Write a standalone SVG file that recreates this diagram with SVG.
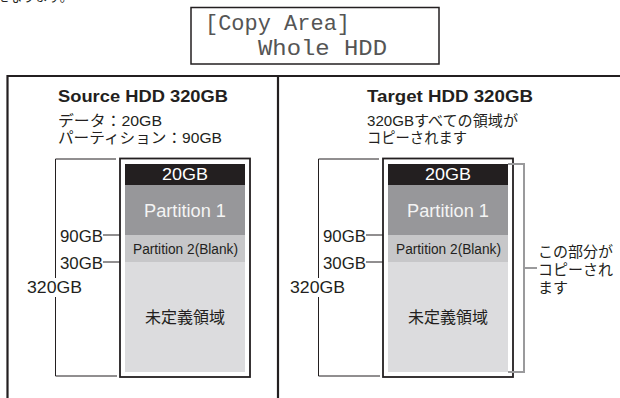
<svg xmlns="http://www.w3.org/2000/svg" width="620" height="398" viewBox="0 0 620 398">
<style>
.t{font-family:"Liberation Sans","Noto Sans CJK JP",sans-serif;fill:#231f20}
.jp{font-family:"Noto Sans CJK JP","Liberation Sans",sans-serif;fill:#231f20}
.h{font-family:"Liberation Sans","Noto Sans CJK JP",sans-serif;font-weight:bold;font-size:17px;fill:#231f20}
.lcd{font-family:"Liberation Mono",monospace;font-size:22px;fill:#555}
.frame{fill:none;stroke:#231f20;stroke-width:2.2}
.box{fill:#fff;stroke:#231f20;stroke-width:1.8}
.thin{fill:none;stroke:#231f20;stroke-width:1}
.copy{fill:none;stroke:#9a9a9c;stroke-width:2}
.s1{fill:#231f20}.s2{fill:#97979a}.s3{fill:#c7c7c9}.s4{fill:#dcdcde}
.lbl{font-size:16px}
.mid{text-anchor:middle}
.end{text-anchor:end}
</style>
<rect width="620" height="398" fill="#fff"/>
<text class="jp" x="-4" y="1" font-size="13">になります。</text>

<g id="copy-area">
  <rect x="191" y="7.5" width="248" height="56.5" fill="#fff" stroke="#231f20" stroke-width="1.5"/>
  <text class="lcd" x="205" y="30" textLength="145" lengthAdjust="spacingAndGlyphs">[Copy Area]</text>
  <text class="lcd" x="258" y="55" textLength="129" lengthAdjust="spacingAndGlyphs">Whole HDD</text>
</g>

<g id="frame">
  <path class="frame" d="M7.5 398V76H620M278 76V398"/>
</g>

<g id="source-panel">
  <text class="h" x="58" y="102" textLength="170" lengthAdjust="spacingAndGlyphs">Source HDD 320GB</text>
  <text class="t" x="58" y="126" font-size="15" textLength="104" lengthAdjust="spacingAndGlyphs">データ：20GB</text>
  <text class="t" x="58" y="143" font-size="15" textLength="164" lengthAdjust="spacingAndGlyphs">パーティション：90GB</text>
</g>

<g id="source-hdd">
  <rect class="box" x="120" y="158.5" width="130" height="218.5"/>
  <rect class="s1" x="125" y="164" width="120" height="21"/>
  <rect class="s2" x="125" y="185" width="120" height="50"/>
  <rect class="s3" x="125" y="235" width="120" height="27"/>
  <rect class="s4" x="125" y="262" width="120" height="110"/>
  <text class="t mid" x="185" y="180" font-size="16" fill="#fff" style="fill:#fff" textLength="46" lengthAdjust="spacingAndGlyphs">20GB</text>
  <text class="t mid" x="185" y="217" font-size="17.5" style="fill:#f4f4f4" textLength="82" lengthAdjust="spacingAndGlyphs">Partition 1</text>
  <text class="t mid" x="185.5" y="254" font-size="14" textLength="105" lengthAdjust="spacingAndGlyphs">Partition 2(Blank)</text>
  <text class="jp mid" x="185" y="323" font-size="16">未定義領域</text>
</g>

<g id="target-panel">
  <text class="h" x="367" y="102" textLength="166" lengthAdjust="spacingAndGlyphs">Target HDD 320GB</text>
  <text class="t" x="367" y="126" font-size="15" textLength="151" lengthAdjust="spacingAndGlyphs">320GBすべての領域が</text>
  <text class="t" x="367" y="143" font-size="15" textLength="100" lengthAdjust="spacingAndGlyphs">コピーされます</text>
</g>

<g id="target-hdd">
  <rect class="box" x="383" y="158.5" width="130" height="218.5"/>
  <rect class="s1" x="388" y="164" width="120" height="21"/>
  <rect class="s2" x="388" y="185" width="120" height="50"/>
  <rect class="s3" x="388" y="235" width="120" height="27"/>
  <rect class="s4" x="388" y="262" width="120" height="110"/>
  <text class="t mid" x="448" y="180" font-size="16" style="fill:#fff" textLength="46" lengthAdjust="spacingAndGlyphs">20GB</text>
  <text class="t mid" x="448" y="217" font-size="17.5" style="fill:#f4f4f4" textLength="82" lengthAdjust="spacingAndGlyphs">Partition 1</text>
  <text class="t mid" x="448.5" y="254" font-size="14" textLength="105" lengthAdjust="spacingAndGlyphs">Partition 2(Blank)</text>
  <text class="jp mid" x="448" y="323" font-size="16">未定義領域</text>
</g>

<g id="connectors">
  <path class="thin" d="M116 159H55.5V376H117M103 235H120M103 262H120"/>
  <path class="thin" d="M379 159H318.5V376H380M366 235H383M366 262H383"/>
  <path class="copy" d="M508 164H524V372H508M524 268H537"/>
</g>

<g id="size-labels">
  <rect x="27" y="278" width="56" height="19" fill="#fff"/>
  <rect x="290" y="278" width="56" height="19" fill="#fff"/>
  <text class="t lbl end" x="103" y="241.5" textLength="43" lengthAdjust="spacingAndGlyphs">90GB</text>
  <text class="t lbl end" x="103" y="269" textLength="43" lengthAdjust="spacingAndGlyphs">30GB</text>
  <text class="t lbl" x="27" y="293" textLength="55" lengthAdjust="spacingAndGlyphs">320GB</text>
  <text class="t lbl end" x="366" y="241.5" textLength="43" lengthAdjust="spacingAndGlyphs">90GB</text>
  <text class="t lbl end" x="366" y="269" textLength="43" lengthAdjust="spacingAndGlyphs">30GB</text>
  <text class="t lbl" x="290" y="293" textLength="55" lengthAdjust="spacingAndGlyphs">320GB</text>
</g>

<g id="copy-note">
  <text class="jp" x="538" y="257" font-size="15">この部分が</text>
  <text class="jp" x="538" y="275" font-size="15">コピーされ</text>
  <text class="jp" x="538" y="293" font-size="15">ます</text>
</g>
</svg>
